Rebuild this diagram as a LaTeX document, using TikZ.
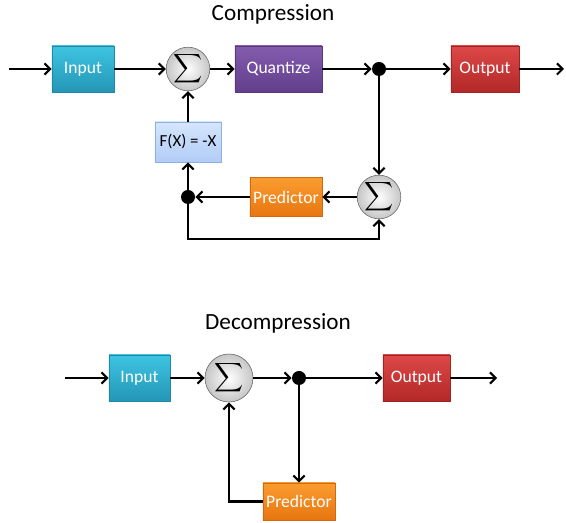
\documentclass[tikz,border=0pt]{standalone}
\usepackage{exscale}
\usepackage{fontspec}
\setmainfont{Carlito}
\usetikzlibrary{shadows,arrows.meta}
\definecolor{inpTop}{RGB}{62,196,226}
\definecolor{inpBot}{RGB}{36,150,182}
\definecolor{quaTop}{RGB}{132,92,174}
\definecolor{quaBot}{RGB}{98,62,140}
\definecolor{outTop}{RGB}{222,72,72}
\definecolor{outBot}{RGB}{178,40,40}
\definecolor{preTop}{RGB}{250,156,48}
\definecolor{preBot}{RGB}{232,118,16}
\definecolor{fxTop}{RGB}{214,230,252}
\definecolor{fxBot}{RGB}{176,204,246}
\definecolor{fxLine}{RGB}{140,176,226}
\tikzset{
  blockbox/.style={rectangle, inner sep=0pt, text=white,
    font=\fontsize{12.5}{14}\selectfont,
    drop shadow={shadow xshift=0.4pt, shadow yshift=-0.6pt, opacity=0.35}},
  inbox/.style={blockbox, top color=inpTop, bottom color=inpBot, draw=inpBot!90!black},
  quabox/.style={blockbox, top color=quaTop, bottom color=quaBot, draw=quaBot!90!black},
  outbox/.style={blockbox, top color=outTop, bottom color=outBot, draw=outBot!90!black},
  prebox/.style={blockbox, top color=preTop, bottom color=preBot, draw=preBot!90!black},
  fxbox/.style={rectangle, inner sep=0pt, text=black, font=\fontsize{12}{14}\selectfont,
    top color=fxTop, bottom color=fxBot, draw=fxLine},
  sumnode/.style={circle, inner sep=0pt, draw=gray!80!black,
    inner color=white, outer color=gray!45, font=\fontsize{13.5}{16}\selectfont},
  junction/.style={circle, fill=black, inner sep=0pt, minimum size=0.35cm},
  wire/.style={line width=1.5pt, -{Straight Barb[length=4pt, width=8pt]}},
  heading/.style={font=\fontsize{16.5}{19}\selectfont}
}
\begin{document}
\begin{tikzpicture}[x=0.025cm, y=-0.025cm]
\useasboundingbox (0,0) rectangle (566,523);
% compression
\node[heading] (title1) at (273,14) {Compression};
\node[inbox, minimum width=1.55cm, minimum height=1.15cm] (inp) at (83,69) {Input};
\node[sumnode, minimum size=0.95cm] (sum1) at (188,69) {$\displaystyle\sum$};
\node[quabox, minimum width=2.175cm, minimum height=1.15cm] (quant) at (278.5,69) {Quantize};
\node[junction] (dot1) at (379,69) {};
\node[outbox, minimum width=1.7cm, minimum height=1.15cm] (out) at (485,69) {Output};
\node[fxbox, minimum width=1.65cm, minimum height=1.0cm] (fx) at (188,142) {F(X) = -X};
\node[sumnode, minimum size=1.05cm] (sum2) at (379,197) {$\displaystyle\sum$};
\node[prebox, minimum width=1.8cm, minimum height=0.975cm] (pred) at (286,197) {Predictor};
\node[junction] (dot2) at (188,197) {};
\coordinate (inA) at (9,69);
\coordinate (outA) at (564,69);
\coordinate (loop) at (283,239);
\draw[wire] (inA) -- (inp);
\draw[wire] (inp) -- (sum1);
\draw[wire] (sum1) -- (quant);
\draw[wire] (quant) -- (dot1);
\draw[wire] (dot1) -- (out);
\draw[wire] (out) -- (outA);
\draw[wire] (dot1) -- (sum2);
\draw[wire] (sum2) -- (pred);
\draw[wire] (pred) -- (dot2);
\draw[wire] (dot2) -- (fx);
\draw[wire] (fx) -- (sum1);
\draw[wire] (dot2) |- (loop) -| (sum2.south);
% decompression
\node[heading] (title2) at (278,323) {Decompression};
\node[inbox, minimum width=1.525cm, minimum height=1.15cm] (inp2) at (139.5,378) {Input};
\node[sumnode, minimum size=1.2cm] (sum3) at (229,378) {$\displaystyle\sum$};
\node[junction] (dot3) at (299,378) {};
\node[outbox, minimum width=1.675cm, minimum height=1.15cm] (out2) at (416.5,378) {Output};
\node[prebox, minimum width=1.8cm, minimum height=0.925cm] (pred2) at (299,501.5) {Predictor};
\coordinate (inB) at (65,378);
\coordinate (outB) at (497,378);
\draw[wire] (inB) -- (inp2);
\draw[wire] (inp2) -- (sum3);
\draw[wire] (sum3) -- (dot3);
\draw[wire] (dot3) -- (out2);
\draw[wire] (out2) -- (outB);
\draw[wire] (dot3) -- (pred2);
\draw[wire] (pred2.west) -| (sum3.south);
\end{tikzpicture}
\end{document}
